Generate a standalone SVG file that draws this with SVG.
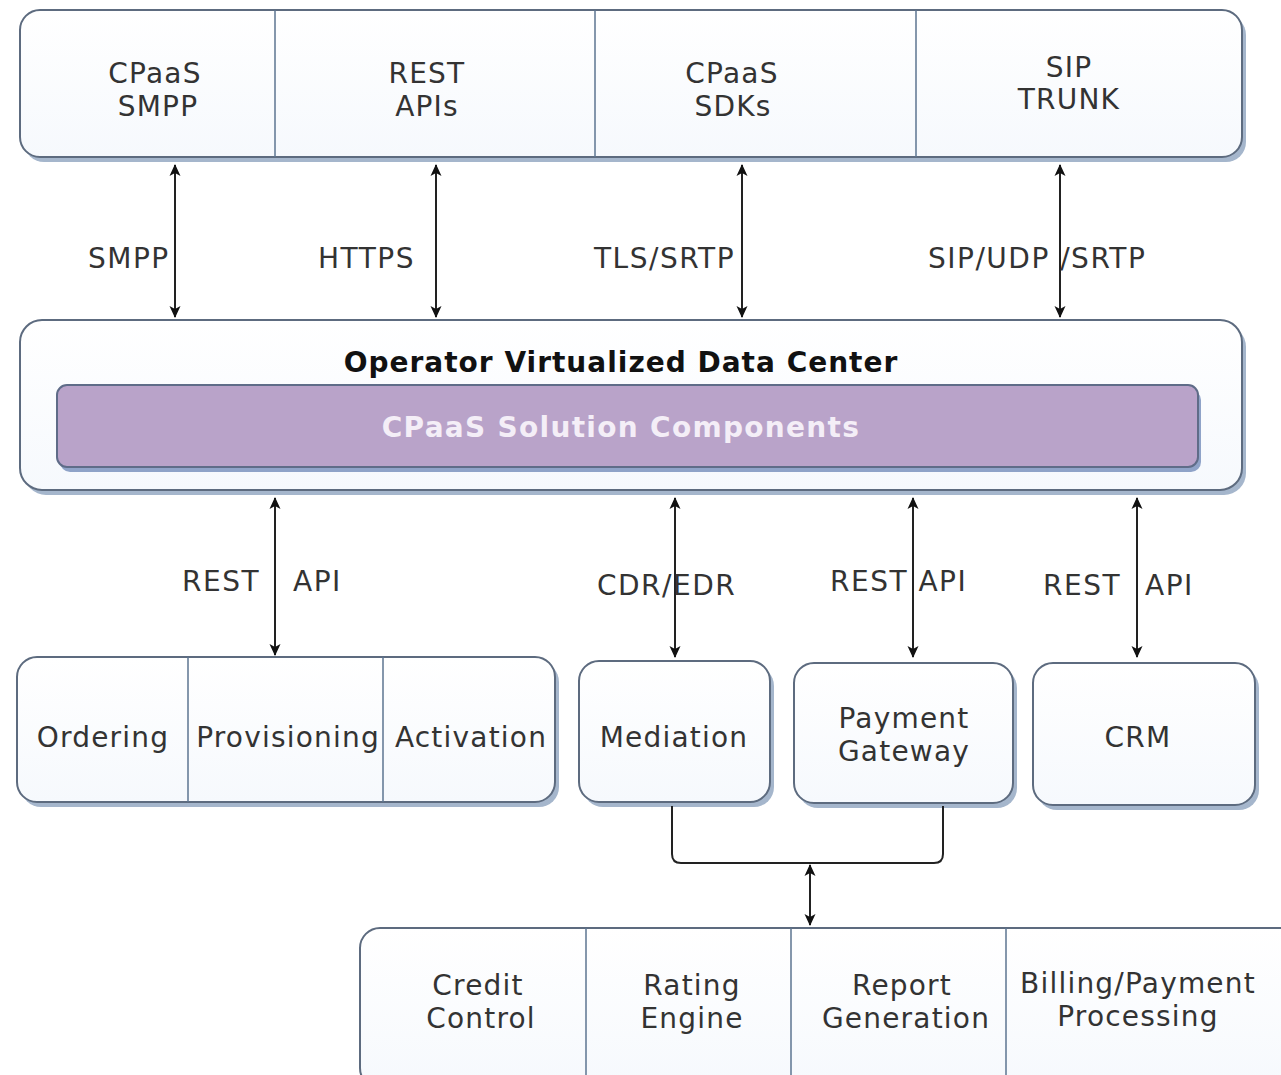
<svg xmlns="http://www.w3.org/2000/svg" width="1281" height="1075" viewBox="0 0 1281 1075">
<defs>
<marker id="ah" viewBox="0 0 12 12" refX="11" refY="6" markerWidth="12" markerHeight="12" markerUnits="userSpaceOnUse" orient="auto-start-reverse">
<path d="M0,0.5 L12,6 L0,11.5 L3,6 z" fill="#111"/>
</marker>
<linearGradient id="bg" x1="0" y1="0" x2="0" y2="1">
<stop offset="0" stop-color="#ffffff"/>
<stop offset="1" stop-color="#f6f9fd"/>
</linearGradient>
</defs>
<style>
.box{fill:url(#bg);stroke:#5d6b7f;stroke-width:2}
.sh{fill:#a5b6cc}
.div{stroke:#5d7590;stroke-width:1.5}
.t{font-family:"DejaVu Sans",Verdana,sans-serif;font-size:28px;letter-spacing:1.2px;fill:#333;text-anchor:middle}
.lbl{font-family:"DejaVu Sans",Verdana,sans-serif;font-size:28px;letter-spacing:1.5px;fill:#333;text-anchor:start}
.c{stroke:#222;stroke-width:2;fill:none}
</style>
<rect width="1281" height="1075" fill="#ffffff"/>

<g id="top-row">
<rect class="sh" x="24" y="15" width="1222" height="147" rx="20"/>
<rect class="box" x="20" y="10" width="1222" height="147" rx="20"/>
<line class="div" x1="275" y1="10" x2="275" y2="157"/>
<line class="div" x1="595" y1="10" x2="595" y2="157"/>
<line class="div" x1="916" y1="10" x2="916" y2="157"/>
<text class="t" x="155" y="83">CPaaS</text><text class="t" x="158" y="116">SMPP</text>
<text class="t" x="427" y="83">REST</text><text class="t" x="427" y="116">APIs</text>
<text class="t" x="732" y="83">CPaaS</text><text class="t" x="733" y="116">SDKs</text>
<text class="t" x="1069" y="77">SIP</text><text class="t" x="1069" y="109">TRUNK</text>
</g>

<g id="data-center">
<rect class="sh" x="24" y="325" width="1222" height="170" rx="22"/>
<rect class="box" x="20" y="320" width="1222" height="170" rx="22"/>
<text x="621" y="372" text-anchor="middle" font-family="DejaVu Sans,Verdana,sans-serif" font-weight="bold" font-size="28" letter-spacing="1" fill="#111">Operator Virtualized Data Center</text>
<g id="cpaas-components">
<rect x="60" y="390" width="1141" height="82" rx="10" fill="#8fa3c8"/>
<rect x="57" y="385" width="1141" height="82" rx="10" fill="#b9a3c9" stroke="#5f6c88" stroke-width="2"/>
<text x="621" y="437" text-anchor="middle" font-family="DejaVu Sans,Verdana,sans-serif" font-weight="bold" font-size="28" letter-spacing="1.3" fill="#f4eef7">CPaaS Solution Components</text>
</g>
</g>

<g id="oss">
<rect class="sh" x="21" y="662" width="538" height="145" rx="20"/>
<rect class="box" x="17" y="657" width="538" height="145" rx="20"/>
<line class="div" x1="188" y1="657" x2="188" y2="802"/>
<line class="div" x1="383" y1="657" x2="383" y2="802"/>
<text class="t" x="103" y="747">Ordering</text>
<text class="t" x="288" y="747">Provisioning</text>
<text class="t" x="471" y="747">Activation</text>
</g>

<g id="mediation">
<rect class="sh" x="583" y="666" width="191" height="141" rx="20"/>
<rect class="box" x="579" y="661" width="191" height="141" rx="20"/>
<text class="t" x="674" y="747">Mediation</text>
</g>

<g id="payment-gateway">
<rect class="sh" x="798" y="668" width="219" height="140" rx="20"/>
<rect class="box" x="794" y="663" width="219" height="140" rx="20"/>
<text class="t" x="904" y="728">Payment</text>
<text class="t" x="904" y="761">Gateway</text>
</g>

<g id="crm">
<rect class="sh" x="1037" y="668" width="222" height="142" rx="20"/>
<rect class="box" x="1033" y="663" width="222" height="142" rx="20"/>
<text class="t" x="1138" y="747">CRM</text>
</g>

<g id="billing">
<rect class="box" x="360" y="928" width="940" height="160" rx="20"/>
<line class="div" x1="586" y1="928" x2="586" y2="1075"/>
<line class="div" x1="791" y1="928" x2="791" y2="1075"/>
<line class="div" x1="1006" y1="928" x2="1006" y2="1075"/>
<text class="t" x="478" y="995">Credit</text><text class="t" x="481" y="1028">Control</text>
<text class="t" x="692" y="995">Rating</text><text class="t" x="692" y="1028">Engine</text>
<text class="t" x="902" y="995">Report</text><text class="t" x="906" y="1028">Generation</text>
<text class="t" x="1138" y="993">Billing/Payment</text><text class="t" x="1138" y="1026">Processing</text>
</g>

<g id="connectors">
<line class="c" x1="175" y1="165" x2="175" y2="317" marker-start="url(#ah)" marker-end="url(#ah)"/>
<line class="c" x1="436" y1="165" x2="436" y2="317" marker-start="url(#ah)" marker-end="url(#ah)"/>
<line class="c" x1="742" y1="165" x2="742" y2="317" marker-start="url(#ah)" marker-end="url(#ah)"/>
<line class="c" x1="1060" y1="165" x2="1060" y2="317" marker-start="url(#ah)" marker-end="url(#ah)"/>
<line class="c" x1="275" y1="498" x2="275" y2="655" marker-start="url(#ah)" marker-end="url(#ah)"/>
<line class="c" x1="675" y1="498" x2="675" y2="657" marker-start="url(#ah)" marker-end="url(#ah)"/>
<line class="c" x1="913" y1="498" x2="913" y2="657" marker-start="url(#ah)" marker-end="url(#ah)"/>
<line class="c" x1="1137" y1="498" x2="1137" y2="657" marker-start="url(#ah)" marker-end="url(#ah)"/>
<path class="c" d="M672,806 V854 Q672,863 681,863 H934 Q943,863 943,854 V806"/>
<line class="c" x1="810" y1="865" x2="810" y2="925" marker-start="url(#ah)" marker-end="url(#ah)"/>
<text class="lbl" x="88" y="268">SMPP</text>
<text class="lbl" x="318" y="268">HTTPS</text>
<text class="lbl" x="594" y="268">TLS/SRTP</text>
<text class="lbl" x="928" y="268">SIP/UDP /SRTP</text>
<text class="lbl" x="182" y="591">REST</text>
<text class="lbl" x="293" y="591">API</text>
<text class="lbl" x="597" y="595">CDR/EDR</text>
<text class="lbl" x="830" y="591">REST API</text>
<text class="lbl" x="1043" y="595">REST</text>
<text class="lbl" x="1145" y="595">API</text>
</g>
</svg>
